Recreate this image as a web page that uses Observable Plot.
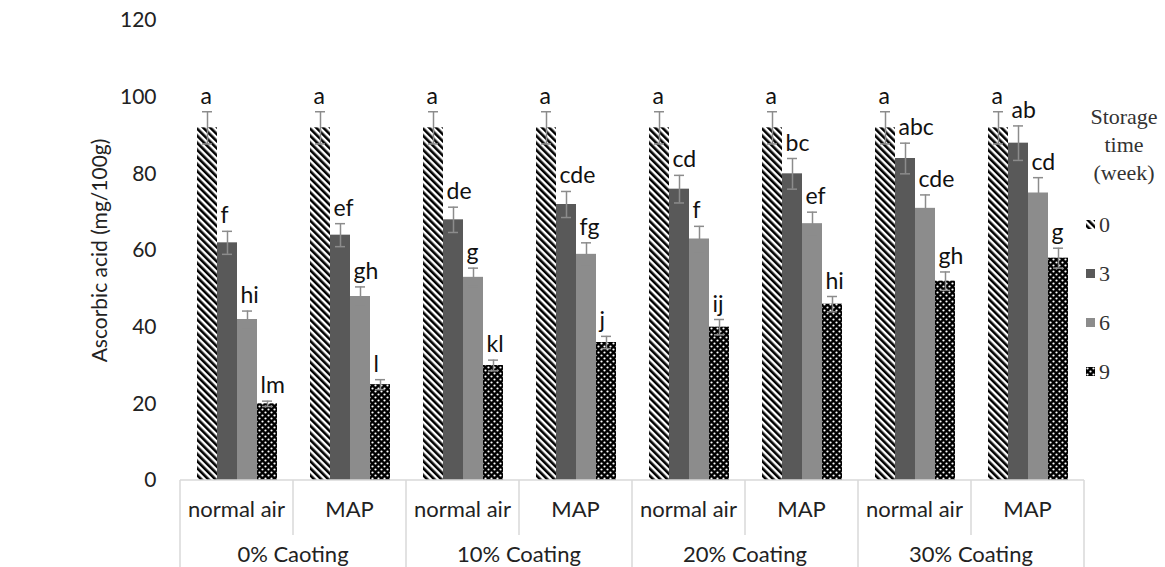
<!DOCTYPE html>
<html>
<head>
<meta charset="utf-8">
<script src="https://cdn.jsdelivr.net/npm/d3@7"></script>
<script src="https://cdn.jsdelivr.net/npm/@observablehq/plot@0.6"></script>
<style>
  html, body { margin: 0; padding: 0; background: #fff; }
  #wrap { position: relative; width: 1165px; height: 567px; overflow: hidden; }
  #legend { position: absolute; left: 1082px; top: 103px; width: 84px; font-family: "Liberation Serif", "Times New Roman", serif; font-size: 22px; color: #333; }
  #legend .title { text-align: center; line-height: 28px; }
  #legend .items { padding-top: 13px; }
  #legend .item { height: 49px; display: flex; align-items: center; padding-left: 4px; }
  #legend .item svg { margin-right: 4px; }
</style>
</head>
<body>
<div id="wrap"><div id="chart"></div><div id="legend"></div></div>
<script>
// ---- data ----
const coatings = ["0% Caoting", "10% Coating", "20% Coating", "30% Coating"];
const atmospheres = ["normal air", "MAP"];
const weeks = ["0", "3", "6", "9"];
const yTicks = [0, 20, 40, 60, 80, 100, 120];

// values per storage week, in group order (0% air, 0% MAP, 10% air, 10% MAP, ...)
const week0 = [92, 92, 92, 92, 92, 92, 92, 92];
const week3 = [62, 64, 68, 72, 76, 80, 84, 88];
const week6 = [42, 48, 53, 59, 63, 67, 71, 75];
const week9 = [20, 25, 30, 36, 40, 46, 52, 58];

const err0 = [4.2, 4.2, 4.2, 4.2, 4.2, 4.2, 4.2, 4.2];
const err3 = [3.0, 3.0, 3.3, 3.4, 3.6, 4.0, 4.0, 4.5];
const err6 = [2.2, 2.5, 2.4, 3.0, 3.3, 3.0, 3.5, 4.0];
const err9 = [0.7, 1.3, 1.4, 1.6, 2.0, 2.0, 2.4, 2.6];

const let0 = ["a", "a", "a", "a", "a", "a", "a", "a"];
const let3 = ["f", "ef", "de", "cde", "cd", "bc", "abc", "ab"];
const let6 = ["hi", "gh", "g", "fg", "f", "ef", "cde", "cd"];
const let9 = ["lm", "l", "kl", "j", "ij", "hi", "gh", "g"];

const weekFills = ["url(#pat0)", "#595959", "#8c8c8c", "url(#pat9)"];

// ---- build table ----
const groups = [];
coatings.forEach(c => atmospheres.forEach(a => groups.push({key: c + "|" + a, coating: c, atm: a})));
const series = [week0, week3, week6, week9];
const errs = [err0, err3, err6, err9];
const lets = [let0, let3, let6, let9];
const rows = [];
groups.forEach((g, i) => weeks.forEach((w, j) => rows.push({
  group: g.key, week: w, value: series[j][i], err: errs[j][i], letter: lets[j][i]
})));

const FONT = "Lato, 'Open Sans', sans-serif";
const errColor = "#8c8c8c";

const plot = Plot.plot({
  width: 1165,
  height: 567,
  marginLeft: 177,
  marginRight: 78,
  marginTop: 20,
  marginBottom: 87,
  style: {fontFamily: FONT, fontSize: "21px", color: "#222", background: "#fff"},
  fx: {domain: groups.map(g => g.key), padding: 0, axis: null},
  x: {domain: weeks, paddingInner: 0, paddingOuter: 0.7, axis: null},
  y: {domain: [0, 120]},
  color: {domain: weeks, range: weekFills},
  marks: [
    Plot.axisY(yTicks, {
      tickSize: 0, tickPadding: 24, fontSize: 21,
      label: "Ascorbic acid (mg/100g)", labelAnchor: "center", labelArrow: "none", labelOffset: 88
    }),
    Plot.barY(rows, {fx: "group", x: "week", y: "value", fill: "week"}),
    Plot.ruleX(rows, {fx: "group", x: "week", y1: d => d.value - d.err, y2: d => d.value + d.err, stroke: errColor, strokeWidth: 1.5}),
    Plot.tickY(rows, {fx: "group", x: "week", y: d => d.value + d.err, stroke: errColor, strokeWidth: 1.5, insetLeft: 5, insetRight: 5}),
    Plot.tickY(rows, {fx: "group", x: "week", y: d => d.value - d.err, stroke: errColor, strokeWidth: 1.5, insetLeft: 5, insetRight: 5}),
    Plot.text(rows, {fx: "group", x: "week", y: d => d.value + d.err, text: "letter",
      dy: -8, dx: -7, lineAnchor: "bottom", textAnchor: "start", fontSize: 23, fill: "#111"})
  ]
});

// pattern definitions
d3.select(plot).insert("defs", ":first-child").html(`
  <pattern id="pat0" patternUnits="userSpaceOnUse" width="5" height="5" patternTransform="rotate(-45)">
    <rect width="5" height="5" fill="#fff"/>
    <rect width="2.6" height="5" fill="#000"/>
  </pattern>
  <pattern id="pat9" patternUnits="userSpaceOnUse" width="6" height="6">
    <rect width="6" height="6" fill="#000"/>
    <circle cx="1.5" cy="1.5" r="1.1" fill="#fff"/>
    <circle cx="4.5" cy="4.5" r="1.1" fill="#fff"/>
  </pattern>
`);

// two-level category axis drawn from Plot's own scales
const fx = plot.scale("fx");
const ys = plot.scale("y");
const bw = fx.bandwidth;
const y0 = ys.apply(0);
const H = 567;
const g = d3.select(plot).append("g").attr("class", "cat-axis");
const x0 = fx.apply(groups[0].key), x1 = fx.apply(groups[groups.length - 1].key) + bw;
g.append("line").attr("x1", x0).attr("x2", x1).attr("y1", y0).attr("y2", y0)
  .attr("stroke", "#d9d9d9").attr("stroke-width", 1.5);
groups.forEach((gr, i) => {
  const x = fx.apply(gr.key);
  g.append("line").attr("x1", x).attr("x2", x).attr("y1", y0)
    .attr("y2", i % 2 === 0 ? H : y0 + 55)
    .attr("stroke", "#d9d9d9").attr("stroke-width", 1.5);
  g.append("text").attr("x", x + bw / 2).attr("y", y0 + 37)
    .attr("text-anchor", "middle").attr("font-family", FONT).attr("font-size", 22).attr("fill", "#222")
    .text(gr.atm);
});
g.append("line").attr("x1", x1).attr("x2", x1).attr("y1", y0).attr("y2", H)
  .attr("stroke", "#d9d9d9").attr("stroke-width", 1.5);
coatings.forEach((c, i) => {
  const xa = fx.apply(groups[i * 2].key);
  const xb = fx.apply(groups[i * 2 + 1].key) + bw;
  g.append("text").attr("x", (xa + xb) / 2).attr("y", y0 + 82)
    .attr("text-anchor", "middle").attr("font-family", FONT).attr("font-size", 22).attr("fill", "#222")
    .text(c);
});

document.getElementById("chart").appendChild(plot);

// legend
const lg = d3.select("#legend");
lg.append("div").attr("class", "title").html("Storage<br>time<br>(week)");
const items = lg.append("div").attr("class", "items");
weeks.forEach((w, i) => {
  const it = items.append("div").attr("class", "item");
  const s = it.append("svg").attr("width", 9).attr("height", 9);
  s.append("rect").attr("width", 9).attr("height", 9).attr("fill", weekFills[i]);
  it.append("span").text(w);
});
</script>
</body>
</html>
